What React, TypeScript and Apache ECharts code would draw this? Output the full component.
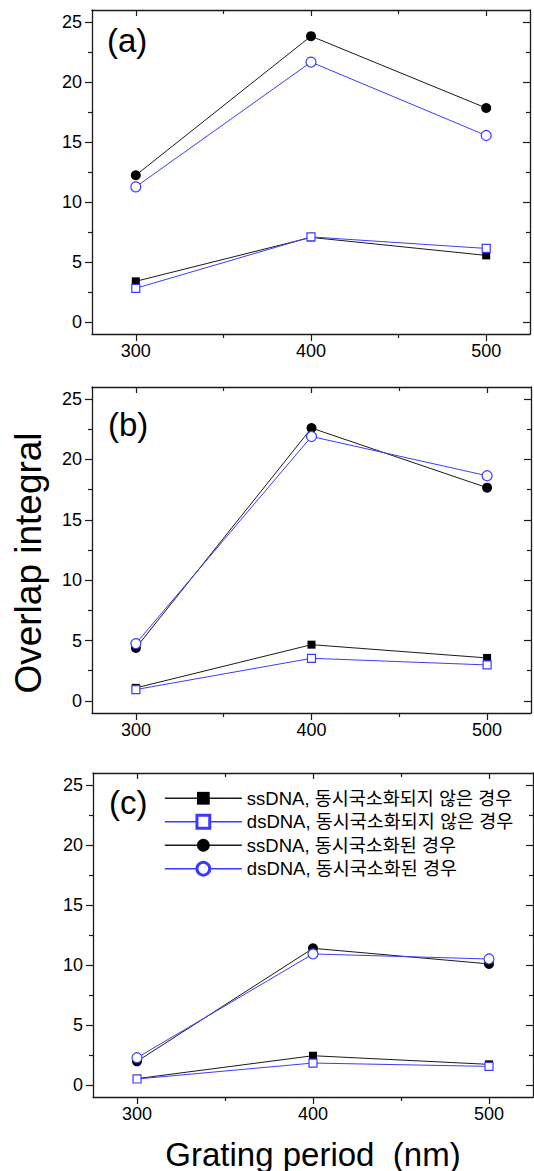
import React, { useEffect, useRef } from "react";
import * as echarts from "echarts";

// ---------- data ----------
const periods = [300, 400, 500];
const panelLabels = ["(a)", "(b)", "(c)"];
const seriesNames = [
  "ssDNA, 동시국소화되지 않은 경우",
  "dsDNA, 동시국소화되지 않은 경우",
  "ssDNA, 동시국소화된 경우",
  "dsDNA, 동시국소화된 경우",
];

const aSsPlain = [3.39, 7.05, 5.55];
const aDsPlain = [2.81, 7.09, 6.13];
const aSsColoc = [12.23, 23.82, 17.83];
const aDsColoc = [11.26, 21.66, 15.54];

const bSsPlain = [1.08, 4.66, 3.56];
const bDsPlain = [0.94, 3.53, 2.98];
const bSsColoc = [4.39, 22.6, 17.66];
const bDsColoc = [4.75, 21.9, 18.65];

const cSsPlain = [0.53, 2.44, 1.72];
const cDsPlain = [0.5, 1.83, 1.55];
const cSsColoc = [1.97, 11.39, 10.09];
const cDsColoc = [2.27, 10.92, 10.5];

const yMajorTicks = [0, 5, 10, 15, 20, 25];
const yMinorTicks = [2.5, 7.5, 12.5, 17.5, 22.5];
const xMajorTicks = [300, 400, 500];
const xMinorTicks = [350, 450];

const xAxisTitle = "Grating period\u00a0 (nm)";
const yAxisTitle = "Overlap integral";

const panels = [
  [aSsPlain, aDsPlain, aSsColoc, aDsColoc],
  [bSsPlain, bDsPlain, bSsColoc, bDsColoc],
  [cSsPlain, cDsPlain, cSsColoc, cDsColoc],
];

// ---------- layout / style ----------
const FONT = "'Liberation Sans', Arial, 'Noto Sans CJK KR', sans-serif";
const BLACK = "#1a1a1a";
const BLUE = "#3b3bff";
const AX = "#1a1a1a";

const grids = [
  { left: 92, top: 10, width: 438, height: 324 },
  { left: 92, top: 387, width: 439, height: 326 },
  { left: 93, top: 773, width: 440, height: 324 },
];
const labelPos = [
  { x: 107, y: 24 },
  { x: 108, y: 408 },
  { x: 109, y: 786 },
];

const X_MIN = 275;
const X_MAX = 525;
const Y_MIN = -1;
const Y_MAX = 26;

const lineCol = { color: AX, width: 1.3 };
const tickCol = { color: AX, width: 1.2 };

function buildXAxes(gi: number) {
  const base: any = {
    type: "value",
    gridIndex: gi,
    min: X_MIN,
    max: X_MAX,
    splitLine: { show: false },
    axisLabel: { show: false },
    axisLine: { show: false, onZero: false },
  };
  return [
    {
      ...base,
      position: "bottom",
      axisLine: { show: true, onZero: false, lineStyle: lineCol },
      axisTick: { show: true, inside: false, length: 7, customValues: xMajorTicks, lineStyle: tickCol },
      axisLabel: {
        show: true,
        customValues: xMajorTicks,
        margin: 8,
        fontSize: 18,
        color: "#000",
        fontFamily: FONT,
      },
    },
    {
      ...base,
      position: "bottom",
      axisTick: { show: true, inside: false, length: 4, customValues: xMinorTicks, lineStyle: tickCol },
    },
    {
      ...base,
      position: "top",
      axisLine: { show: true, onZero: false, lineStyle: lineCol },
      axisTick: { show: true, inside: true, length: 6, customValues: xMajorTicks, lineStyle: tickCol },
    },
    {
      ...base,
      position: "top",
      axisTick: { show: true, inside: true, length: 4, customValues: xMinorTicks, lineStyle: tickCol },
    },
  ];
}

function buildYAxes(gi: number) {
  const base: any = {
    type: "value",
    gridIndex: gi,
    min: Y_MIN,
    max: Y_MAX,
    splitLine: { show: false },
    axisLabel: { show: false },
    axisLine: { show: false, onZero: false },
  };
  return [
    {
      ...base,
      position: "left",
      axisLine: { show: true, onZero: false, lineStyle: lineCol },
      axisTick: { show: true, inside: false, length: 7, customValues: yMajorTicks, lineStyle: tickCol },
      axisLabel: {
        show: true,
        customValues: yMajorTicks,
        margin: 10,
        fontSize: 18,
        color: "#000",
        fontFamily: FONT,
      },
    },
    {
      ...base,
      position: "left",
      axisTick: { show: true, inside: false, length: 4, customValues: yMinorTicks, lineStyle: tickCol },
    },
    {
      ...base,
      position: "right",
      axisLine: { show: true, onZero: false, lineStyle: lineCol },
      axisTick: { show: true, inside: true, length: 7, customValues: yMajorTicks, lineStyle: tickCol },
    },
    {
      ...base,
      position: "right",
      axisTick: { show: true, inside: true, length: 4, customValues: yMinorTicks, lineStyle: tickCol },
    },
  ];
}

const seriesStyles = [
  { symbol: "rect", symbolSize: 8, line: BLACK, item: { color: "#000", borderWidth: 0 } },
  { symbol: "rect", symbolSize: 8, line: BLUE, item: { color: "#fff", borderColor: BLUE, borderWidth: 1.2 } },
  { symbol: "circle", symbolSize: 10, line: BLACK, item: { color: "#000", borderWidth: 0 } },
  { symbol: "circle", symbolSize: 10, line: BLUE, item: { color: "#fff", borderColor: BLUE, borderWidth: 1.2 } },
];

function buildSeries() {
  const out: any[] = [];
  panels.forEach((vals, gi) => {
    vals.forEach((ys, si) => {
      const st = seriesStyles[si];
      out.push({
        type: "line",
        name: seriesNames[si],
        xAxisIndex: gi * 4,
        yAxisIndex: gi * 4,
        data: periods.map((p, k) => [p, ys[k]]),
        symbol: st.symbol,
        symbolSize: st.symbolSize,
        showAllSymbol: true,
        lineStyle: { color: st.line, width: 1 },
        itemStyle: st.item,
        emphasis: { disabled: true },
        silent: true,
      });
    });
  });
  return out;
}

function buildOption(): any {
  const xAxes: any[] = [];
  const yAxes: any[] = [];
  grids.forEach((_, gi) => {
    xAxes.push(...buildXAxes(gi));
    yAxes.push(...buildYAxes(gi));
  });
  return {
    animation: false,
    backgroundColor: "#fff",
    grid: grids.map((g) => ({ ...g, containLabel: false, outerBoundsMode: "none" })),
    xAxis: xAxes,
    yAxis: yAxes,
    legend: {
      show: true,
      orient: "vertical",
      left: 164,
      top: 789,
      itemWidth: 77,
      itemHeight: 16,
      itemGap: 5,
      padding: 0,
      selectedMode: false,
      textStyle: { fontSize: 18.5, color: "#000", fontFamily: FONT },
      data: seriesNames.map((n, i) => ({
        name: n,
        lineStyle: { width: 1.7 },
        itemStyle: i % 2 === 1 ? { borderWidth: 3 } : { borderWidth: 0 },
      })),
    },
    graphic: [
      ...panelLabels.map((t, i) => ({
        type: "text",
        x: labelPos[i].x,
        y: labelPos[i].y,
        silent: true,
        style: { text: t, font: `33px ${FONT}`, fill: "#000", textAlign: "left", textVerticalAlign: "top" },
      })),
      {
        type: "text",
        x: 28,
        y: 563,
        rotation: Math.PI / 2,
        silent: true,
        style: { text: yAxisTitle, font: `37px ${FONT}`, fill: "#000", textAlign: "center", textVerticalAlign: "middle" },
      },
      {
        type: "text",
        x: 313,
        y: 1154,
        silent: true,
        style: { text: xAxisTitle, font: `33px ${FONT}`, fill: "#000", textAlign: "center", textVerticalAlign: "middle" },
      },
    ],
    series: buildSeries(),
  };
}

export default function App() {
  const ref = useRef<HTMLDivElement>(null);
  useEffect(() => {
    document.body.style.margin = "0";
    const chart = echarts.init(ref.current as HTMLDivElement, null, { renderer: "svg" });
    chart.setOption(buildOption());
    return () => chart.dispose();
  }, []);
  return (
    <div
      ref={ref}
      style={{ position: "absolute", left: 0, top: 0, width: 534, height: 1171, background: "#fff" }}
    />
  );
}
